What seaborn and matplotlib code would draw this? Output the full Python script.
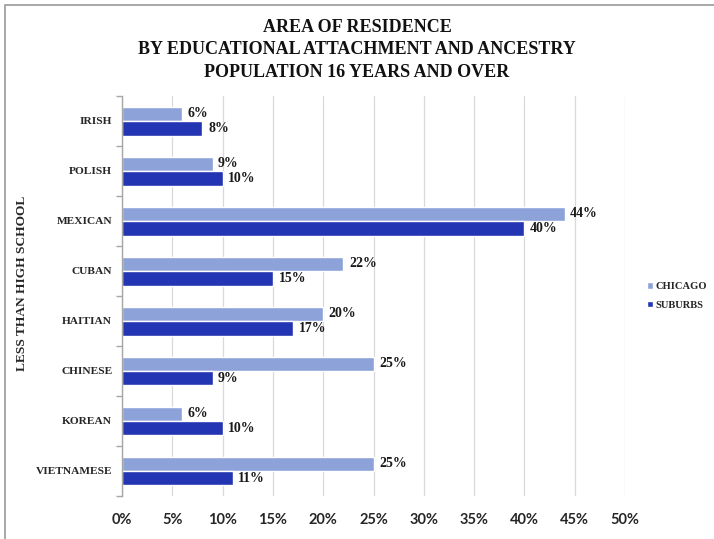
import matplotlib
matplotlib.use("Agg")
import matplotlib.pyplot as plt
import seaborn as sns
import pandas as pd
import numpy as np
from matplotlib.patches import Rectangle
from matplotlib.ticker import FixedLocator, MultipleLocator, FuncFormatter

categories = ["IRISH", "POLISH", "MEXICAN", "CUBAN", "HAITIAN", "CHINESE", "KOREAN", "VIETNAMESE"]
chicago = [6, 9, 44, 22, 20, 25, 6, 25]
suburbs = [8, 10, 40, 15, 17, 9, 10, 11]
series = ["CHICAGO", "SUBURBS"]
colors = ["#8EA2DA", "#2335B2"]

df = pd.DataFrame({
    "Ancestry": categories * 2,
    "Area": [series[0]] * len(categories) + [series[1]] * len(categories),
    "Value": chicago + suburbs,
})

sns.set_theme(style="white")
serif = ["Liberation Serif", "DejaVu Serif"]
sans = ["Lato", "DejaVu Sans"]

fig = plt.figure(figsize=(7.14, 5.39), dpi=100)
ax = fig.add_axes([122/714, 1 - 496/539, (625-122)/714, (496-96)/539])

sns.barplot(data=df, x="Value", y="Ancestry", hue="Area", order=categories,
            hue_order=series, palette=colors, orient="h", width=0.58,
            saturation=1, ax=ax, legend=True)

ax.set_xlim(0, 50)
ax.set_ylim(len(categories) - 0.5, -0.5)
ax.xaxis.set_major_locator(MultipleLocator(5))
ax.xaxis.set_major_formatter(FuncFormatter(lambda v, p: f"{int(v)}%"))
ax.grid(axis="x", color="#D9D9D9", linewidth=0.9)
ax.set_axisbelow(True)
for s in ["top", "right", "bottom"]:
    ax.spines[s].set_visible(False)
ax.spines["left"].set_color("#A6A6A6")
ax.spines["left"].set_linewidth(1.0)

ax.yaxis.set_minor_locator(FixedLocator(np.arange(-0.5, len(categories), 1.0)))
ax.tick_params(axis="y", which="major", length=0, pad=7)
ax.tick_params(axis="y", which="minor", length=4, color="#A6A6A6", left=True)
ax.tick_params(axis="x", length=0, pad=12)

for lab in ax.get_yticklabels():
    lab.set_fontfamily(serif)
    lab.set_fontweight("bold")
    lab.set_fontsize(8.2)
for lab in ax.get_xticklabels():
    lab.set_fontfamily(sans)
    lab.set_fontweight("bold")
    lab.set_fontsize(10.5)

ax.set_xlabel("")
ax.set_ylabel("")

for cont in ax.containers:
    ax.bar_label(cont, fmt="%d%%", padding=4, fontfamily=serif,
                 fontweight="bold", fontsize=10, color="#1a1a1a")

leg = ax.legend(loc="center left", bbox_to_anchor=(1.03, 0.5), frameon=False,
                handlelength=0.55, handleheight=0.55, handletextpad=0.25,
                labelspacing=0.9, borderpad=0.2,
                prop={"family": serif, "weight": "bold", "size": 7.6})

fig.text(22/714, 1 - 283/539, "LESS THAN HIGH SCHOOL", rotation=90,
         ha="center", va="center", fontfamily=serif, fontweight="bold", fontsize=9.6)

fig.text(0.5, 1 - 50/539, "AREA OF RESIDENCE\nBY EDUCATIONAL ATTACHMENT AND ANCESTRY\nPOPULATION 16 YEARS AND OVER",
         ha="center", va="center", fontfamily=serif, fontweight="bold", fontsize=13,
         linespacing=1.4, color="#111111")

fig.patches.append(Rectangle((5/714, -0.05), 1.1, 1 - 5/539 + 0.05,
                             transform=fig.transFigure, fill=False,
                             edgecolor="#9a9a9a", linewidth=1.2))

fig.savefig("out.png", dpi=100)
